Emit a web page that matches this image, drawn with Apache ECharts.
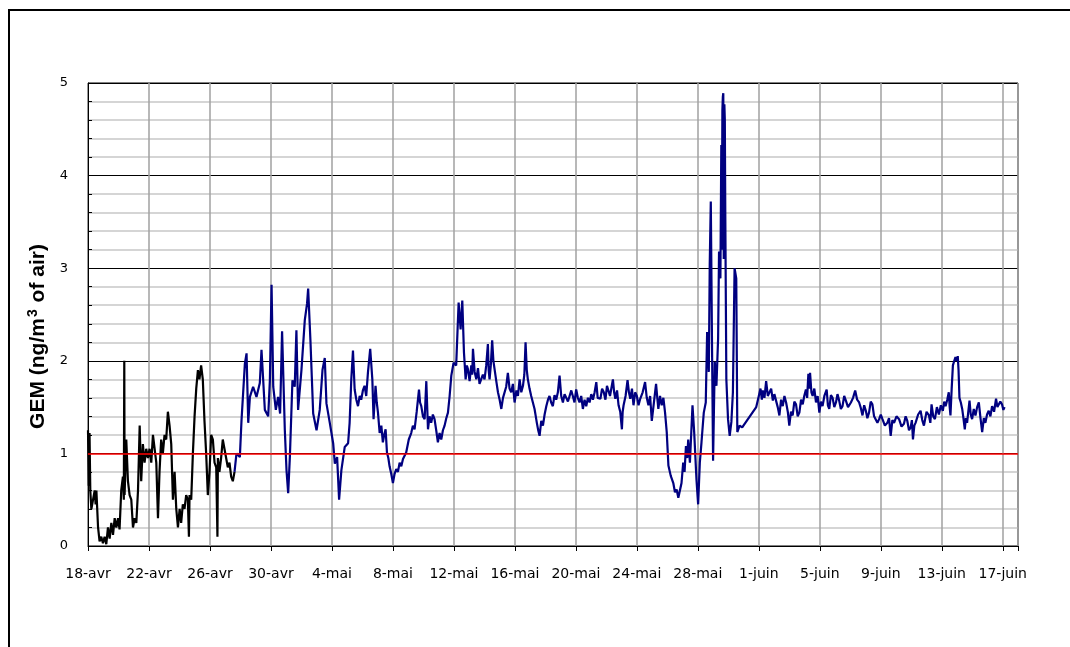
<!DOCTYPE html>
<html>
<head>
<meta charset="utf-8">
<script src="https://cdn.jsdelivr.net/npm/echarts@6/dist/echarts.min.js"></script>
<style>
  html, body { margin: 0; padding: 0; background: #fff; }
  #chart { width: 1070px; height: 647px; }
</style>
</head>
<body>
<div id="chart"></div>
<script>
// Date labels, one every 4 days starting on 18 April (day 0)
const tickLabels = ['18-avr', '22-avr', '26-avr', '30-avr', '4-mai', '8-mai', '12-mai', '16-mai',
  '20-mai', '24-mai', '28-mai', '1-juin', '5-juin', '9-juin', '13-juin', '17-juin'];

// Reference level (ng/m3)
const referenceLevel = 1;

// GEM, first period: [day since 18 April, ng/m3]
const gemPeriod1 = [
  [0.00, 1.25], [0.05, 0.65], [0.10, 1.22], [0.15, 0.60], [0.22, 0.40], [0.33, 0.40], [0.44, 0.60],
  [0.50, 0.45], [0.55, 0.60], [0.66, 0.20], [0.76, 0.05], [0.87, 0.10], [0.98, 0.03], [1.09, 0.10],
  [1.20, 0.02], [1.31, 0.20], [1.42, 0.08], [1.53, 0.25], [1.64, 0.12], [1.75, 0.30], [1.86, 0.20],
  [1.97, 0.30], [2.07, 0.18], [2.18, 0.60], [2.29, 0.75], [2.35, 0.50], [2.38, 2.00], [2.40, 0.55],
  [2.51, 1.15], [2.62, 0.70], [2.73, 0.55], [2.84, 0.50], [2.95, 0.20], [3.06, 0.30], [3.17, 0.25],
  [3.28, 0.60], [3.39, 1.30], [3.49, 0.70], [3.60, 1.10], [3.71, 0.90], [3.82, 1.05], [3.93, 0.95],
  [4.04, 1.05], [4.15, 0.90], [4.26, 1.20], [4.37, 1.20], [4.48, 0.90], [4.59, 0.30], [4.69, 0.80],
  [4.80, 1.15], [4.91, 1.00], [5.02, 1.20], [5.13, 1.15], [5.24, 1.45], [5.35, 1.30], [5.46, 1.10],
  [5.57, 0.50], [5.68, 0.80], [5.79, 0.40], [5.90, 0.20], [6.01, 0.40], [6.11, 0.25], [6.22, 0.45],
  [6.33, 0.40], [6.44, 0.55], [6.55, 0.50], [6.62, 0.10], [6.66, 0.55], [6.77, 0.50], [6.88, 1.00],
  [6.99, 1.40], [7.10, 1.70], [7.21, 1.90], [7.31, 1.80], [7.42, 1.95], [7.53, 1.80], [7.64, 1.35],
  [7.75, 1.00], [7.86, 0.55], [7.97, 0.80], [8.08, 1.20], [8.19, 1.15], [8.30, 0.90], [8.41, 0.85],
  [8.49, 0.10], [8.52, 0.95], [8.62, 0.80], [8.73, 0.95], [8.84, 1.15], [8.95, 1.05], [9.06, 0.95],
  [9.17, 0.85], [9.28, 0.90], [9.39, 0.75], [9.50, 0.70], [9.61, 0.80]
];

// GEM, second period: [day since 18 April, ng/m3]
const gemPeriod2 = [
  [9.61, 0.80], [9.74, 1.00], [9.96, 0.96], [10.07, 1.36], [10.29, 1.97], [10.40, 2.08], [10.51, 1.33],
  [10.62, 1.61], [10.83, 1.72], [11.05, 1.61], [11.27, 1.76], [11.38, 2.12], [11.60, 1.47], [11.82, 1.40],
  [11.93, 1.79], [12.04, 2.82], [12.15, 1.72], [12.32, 1.47], [12.47, 1.61], [12.60, 1.43], [12.73, 2.32],
  [12.91, 1.25], [13.02, 0.82], [13.13, 0.57], [13.24, 0.96], [13.41, 1.79], [13.56, 1.72], [13.67, 2.33],
  [13.78, 1.47], [14.00, 1.90], [14.22, 2.44], [14.37, 2.62], [14.44, 2.78], [14.59, 2.22], [14.77, 1.43],
  [14.99, 1.25], [15.20, 1.47], [15.38, 1.90], [15.53, 2.03], [15.64, 1.54], [15.86, 1.33], [16.08, 1.11],
  [16.19, 0.89], [16.34, 0.96], [16.47, 0.50], [16.62, 0.82], [16.84, 1.07], [17.06, 1.11],
  [17.16, 1.33], [17.27, 1.80], [17.38, 2.11], [17.49, 1.69], [17.60, 1.58], [17.71, 1.51], [17.82, 1.62],
  [17.92, 1.58], [18.03, 1.68], [18.14, 1.73], [18.25, 1.62], [18.36, 1.87], [18.51, 2.13], [18.65, 1.80],
  [18.73, 1.37], [18.86, 1.73], [18.94, 1.55], [19.02, 1.44], [19.13, 1.22], [19.24, 1.30], [19.34, 1.12],
  [19.43, 1.20], [19.52, 1.26], [19.61, 1.01], [19.70, 0.95], [19.78, 0.86], [19.89, 0.78], [20.00, 0.68],
  [20.11, 0.78], [20.22, 0.83], [20.33, 0.80], [20.44, 0.90], [20.55, 0.86], [20.66, 0.94], [20.76, 0.92],
  [20.87, 1.01], [21.04, 1.15], [21.20, 1.22], [21.31, 1.30], [21.42, 1.26], [21.56, 1.45], [21.71, 1.69],
  [21.78, 1.55], [21.86, 1.51], [21.97, 1.40], [22.08, 1.37], [22.19, 1.78], [22.30, 1.26], [22.40, 1.40],
  [22.51, 1.33], [22.62, 1.42], [22.73, 1.37], [22.84, 1.25], [22.95, 1.12], [23.06, 1.22], [23.17, 1.15],
  [23.28, 1.25], [23.39, 1.30], [23.50, 1.38], [23.61, 1.44], [23.72, 1.62], [23.83, 1.84], [23.98, 1.98],
  [24.15, 1.95], [24.31, 2.63], [24.44, 2.34], [24.55, 2.65], [24.66, 2.09], [24.77, 1.80], [24.85, 1.95],
  [24.92, 1.91], [25.03, 1.78], [25.14, 1.95], [25.20, 1.85], [25.25, 2.13], [25.36, 1.88], [25.47, 1.80],
  [25.58, 1.92], [25.68, 1.75], [25.79, 1.73], [25.90, 1.85], [26.01, 1.80], [26.12, 1.95], [26.23, 2.18],
  [26.28, 1.90], [26.34, 1.80], [26.42, 1.95], [26.51, 2.22], [26.59, 2.00], [26.67, 1.98], [26.78, 1.78],
  [26.89, 1.66], [27.00, 1.58], [27.11, 1.48], [27.22, 1.60], [27.32, 1.62], [27.43, 1.72], [27.54, 1.87],
  [27.65, 1.70], [27.76, 1.66], [27.87, 1.75], [27.98, 1.55], [28.10, 1.68], [28.20, 1.62], [28.31, 1.80],
  [28.42, 1.66], [28.53, 1.73], [28.62, 1.85], [28.70, 2.20], [28.78, 1.90], [28.85, 1.80], [28.96, 1.70],
  [29.07, 1.62], [29.18, 1.55], [29.29, 1.48], [29.37, 1.40], [29.44, 1.33], [29.53, 1.25], [29.62, 1.19],
  [29.73, 1.35], [29.84, 1.30], [29.95, 1.42],
  [30.06, 1.51], [30.17, 1.58], [30.27, 1.62], [30.38, 1.55], [30.49, 1.51], [30.60, 1.63], [30.71, 1.58],
  [30.82, 1.66], [30.93, 1.84], [31.04, 1.62], [31.15, 1.55], [31.26, 1.64], [31.37, 1.66], [31.48, 1.56],
  [31.59, 1.58], [31.70, 1.68], [31.80, 1.62], [31.91, 1.55], [32.02, 1.69], [32.13, 1.60], [32.24, 1.55],
  [32.35, 1.62], [32.46, 1.48], [32.57, 1.58], [32.68, 1.51], [32.79, 1.60], [32.90, 1.55], [33.01, 1.64],
  [33.12, 1.58], [33.23, 1.66], [33.34, 1.77], [33.43, 1.60], [33.51, 1.62], [33.61, 1.59], [33.72, 1.70],
  [33.83, 1.66], [33.94, 1.58], [34.04, 1.73], [34.24, 1.62], [34.43, 1.80], [34.51, 1.66], [34.59, 1.59],
  [34.70, 1.68], [34.80, 1.52], [34.91, 1.45], [35.02, 1.26], [35.07, 1.45], [35.13, 1.52], [35.26, 1.62],
  [35.39, 1.79], [35.48, 1.66], [35.57, 1.59], [35.68, 1.70], [35.78, 1.52], [35.89, 1.66], [36.00, 1.62],
  [36.11, 1.52], [36.22, 1.59], [36.38, 1.66], [36.54, 1.77], [36.65, 1.60], [36.76, 1.52], [36.87, 1.62],
  [36.98, 1.35], [37.12, 1.55], [37.26, 1.75], [37.34, 1.60], [37.41, 1.48], [37.52, 1.62], [37.63, 1.52],
  [37.74, 1.60], [37.85, 1.44], [37.96, 1.23], [38.07, 0.87], [38.22, 0.76], [38.39, 0.68], [38.50, 0.58],
  [38.61, 0.61], [38.72, 0.52], [38.83, 0.54], [38.93, 0.68], [39.04, 0.90], [39.13, 0.80], [39.22, 1.08],
  [39.30, 0.95], [39.37, 1.15], [39.48, 0.90], [39.65, 1.52], [39.76, 1.23], [39.91, 0.72], [40.02, 0.45],
  [40.13, 0.90], [40.24, 1.12], [40.39, 1.44], [40.52, 1.55], [40.61, 2.31], [40.72, 1.88], [40.78, 3.03],
  [40.85, 3.72], [40.93, 2.17], [41.00, 0.92], [41.11, 1.99], [41.22, 1.73], [41.33, 2.24], [41.39, 3.18],
  [41.48, 2.89], [41.54, 4.33], [41.57, 3.20], [41.61, 4.70], [41.64, 4.85], [41.67, 4.89], [41.70, 3.10],
  [41.74, 4.77], [41.77, 4.60], [41.80, 3.61], [41.87, 1.80], [41.98, 1.37], [42.09, 1.19], [42.20, 1.34],
  [42.30, 1.66], [42.41, 3.00], [42.52, 2.89], [42.59, 1.23], [42.74, 1.30], [42.91, 1.28], [43.83, 1.50],
  [44.00, 1.62], [44.11, 1.70], [44.20, 1.58], [44.26, 1.68], [44.37, 1.60], [44.48, 1.78], [44.59, 1.62],
  [44.70, 1.60], [44.81, 1.70], [44.92, 1.57], [45.02, 1.64], [45.13, 1.66], [45.24, 1.50], [45.35, 1.41],
  [45.46, 1.58], [45.57, 1.51], [45.68, 1.62], [45.79, 1.55], [45.90, 1.45], [46.00, 1.30], [46.11, 1.45],
  [46.22, 1.41], [46.33, 1.56], [46.44, 1.53], [46.55, 1.40], [46.66, 1.44], [46.77, 1.58], [46.88, 1.53],
  [46.98, 1.62], [47.09, 1.69], [47.17, 1.60], [47.25, 1.86], [47.30, 1.70], [47.36, 1.87], [47.45, 1.66],
  [47.53, 1.62], [47.64, 1.70], [47.75, 1.55], [47.86, 1.62], [47.97, 1.44], [48.07, 1.56], [48.18, 1.51],
  [48.30, 1.62], [48.45, 1.69], [48.53, 1.52], [48.62, 1.48], [48.73, 1.63], [48.84, 1.60], [48.95, 1.50],
  [49.06, 1.55], [49.16, 1.64], [49.27, 1.57], [49.38, 1.48], [49.49, 1.51], [49.60, 1.62], [49.71, 1.57],
  [49.85, 1.50], [50.04, 1.55], [50.18, 1.60], [50.32, 1.68], [50.45, 1.58], [50.58, 1.55], [50.69, 1.49],
  [50.80, 1.41], [50.91, 1.52], [51.02, 1.46], [51.12, 1.38], [51.23, 1.44], [51.34, 1.56], [51.45, 1.53],
  [51.56, 1.40], [51.67, 1.42], [51.78, 1.33], [51.89, 1.37], [52.00, 1.42], [52.11, 1.37], [52.27, 1.30],
  [52.43, 1.33], [52.54, 1.38], [52.65, 1.19], [52.76, 1.36], [52.87, 1.33], [53.03, 1.40], [53.20, 1.37],
  [53.36, 1.29], [53.52, 1.32], [53.63, 1.40], [53.74, 1.35], [53.85, 1.25], [53.96, 1.28], [54.04, 1.36],
  [54.11, 1.15], [54.20, 1.30], [54.28, 1.33], [54.45, 1.42], [54.61, 1.46], [54.72, 1.36], [54.83, 1.30],
  [55.00, 1.45], [55.16, 1.41], [55.25, 1.33], [55.33, 1.53], [55.44, 1.40], [55.55, 1.37], [55.68, 1.50],
  [55.81, 1.42], [55.94, 1.52], [56.07, 1.46], [56.16, 1.56], [56.25, 1.51], [56.36, 1.58], [56.46, 1.66],
  [56.52, 1.50], [56.57, 1.41], [56.65, 1.70], [56.73, 1.95], [56.82, 2.00], [56.90, 2.04], [56.98, 2.00],
  [57.05, 2.05], [57.10, 1.90], [57.16, 1.60], [57.25, 1.55], [57.34, 1.48], [57.42, 1.38], [57.51, 1.26],
  [57.58, 1.38], [57.66, 1.33], [57.74, 1.45], [57.82, 1.57], [57.90, 1.42], [57.99, 1.37], [58.10, 1.48],
  [58.21, 1.41], [58.32, 1.50], [58.43, 1.55], [58.54, 1.38], [58.65, 1.23], [58.76, 1.38], [58.86, 1.33],
  [58.97, 1.42], [59.08, 1.46], [59.19, 1.40], [59.30, 1.51], [59.43, 1.45], [59.56, 1.59], [59.65, 1.50],
  [59.73, 1.48], [59.84, 1.56], [59.95, 1.53], [60.04, 1.47], [60.12, 1.50]
];

const chart = echarts.init(document.getElementById('chart'), null, { renderer: 'canvas' });

const labelFont = { fontFamily: 'DejaVu Sans, Verdana, sans-serif', color: '#000' };
const titleFont = 'Liberation Sans, Arial, sans-serif';

chart.setOption({
  animation: false,
  backgroundColor: '#fff',
  graphic: [{
    type: 'rect',
    silent: true,
    shape: { x: 9, y: 10, width: 1200, height: 800 },
    style: { fill: 'none', stroke: '#000', lineWidth: 2 }
  }],
  grid: {
    left: 88, top: 83, right: 52, bottom: 101,
    show: true, borderColor: '#000', borderWidth: 1, backgroundColor: 'transparent'
  },
  xAxis: {
    type: 'value',
    min: 0, max: 61, interval: 4,
    axisLine: { lineStyle: { color: '#000', width: 1 } },
    axisTick: { show: true, inside: false, length: 5, lineStyle: { color: '#000' } },
    axisLabel: Object.assign({}, labelFont, {
      fontSize: 14,
      margin: 21,
      formatter: v => (v % 4 === 0 ? tickLabels[v / 4] : '')
    }),
    splitLine: { show: true, lineStyle: { color: '#a0a0a0', width: 1.5 } }
  },
  yAxis: {
    type: 'value',
    min: 0, max: 5, interval: 1,
    name: '{a|GEM (ng/m}{s|3}{a| of air)}',
    nameLocation: 'middle',
    nameGap: 38,
    nameRotate: 90,
    nameTextStyle: {
      padding: [0, 44, 0, 0],
      rich: {
        a: { fontFamily: titleFont, fontSize: 21, fontWeight: 'bold', color: '#000' },
        s: { fontFamily: titleFont, fontSize: 14, fontWeight: 'bold', color: '#000', verticalAlign: 'top', padding: [0, 1, 10, 1] }
      }
    },
    axisLine: { show: true, lineStyle: { color: '#000', width: 1 } },
    axisTick: { show: true, inside: true, length: 4, lineStyle: { color: '#000' } },
    minorTick: { show: true, splitNumber: 5, length: 4, lineStyle: { color: '#000' } },
    axisLabel: Object.assign({}, labelFont, { fontSize: 13, margin: 20 }),
    splitLine: { show: true, lineStyle: { color: '#000', width: 1 } },
    minorSplitLine: { show: true, lineStyle: { color: '#c8c8c8', width: 1.5 } }
  },
  series: [
    {
      name: 'period1',
      type: 'line',
      data: gemPeriod1,
      showSymbol: false,
      symbol: 'none',
      lineStyle: { color: '#000', width: 2.2 },
      z: 3
    },
    {
      name: 'period2',
      type: 'line',
      data: gemPeriod2,
      showSymbol: false,
      symbol: 'none',
      lineStyle: { color: '#000080', width: 2.2 },
      z: 3,
      markLine: {
        silent: true,
        symbol: ['none', 'none'],
        label: { show: false },
        lineStyle: { color: '#ff0000', width: 1.5, type: 'solid' },
        data: [{ yAxis: referenceLevel }]
      }
    }
  ]
});
</script>
</body>
</html>
